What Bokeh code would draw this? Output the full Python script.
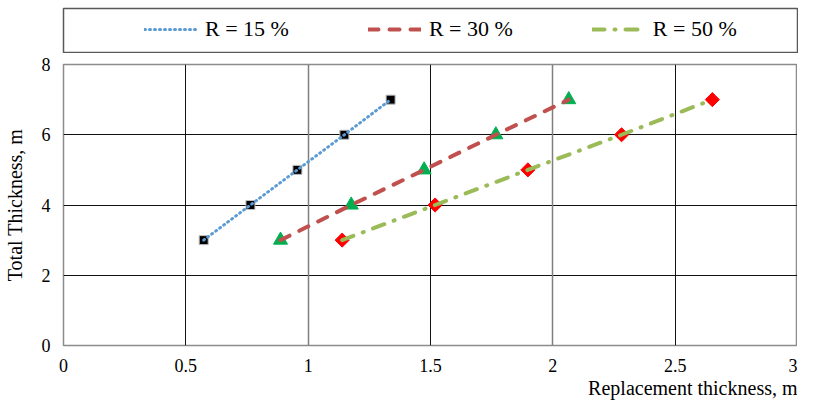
from bokeh.plotting import figure
from bokeh.models import Legend, LegendItem, Grid, FixedTicker, Range1d, Title
from bokeh.layouts import column
from bokeh.embed import file_html
from bokeh.resources import INLINE

# ---- data ----
total_thickness = [3, 4, 5, 6, 7]
repl_r15 = [0.573, 0.764, 0.956, 1.148, 1.337]
repl_r30 = [0.887, 1.176, 1.474, 1.767, 2.065]
repl_r50 = [1.139, 1.519, 1.898, 2.281, 2.652]
series_names = ["R = 15 %", "R = 30 %", "R = 50 %"]
x_ticks = [0, 0.5, 1, 1.5, 2, 2.5, 3]
x_tick_labels = ["0", "0.5", "1", "1.5", "2", "2.5", "3"]
y_ticks = [0, 2, 4, 6, 8]
y_tick_labels = ["0", "2", "4", "6", "8"]
x_title = "Replacement thickness, m"
y_title = "Total Thickness, m"

FONT = "Liberation Serif"
C15, C30, C50 = "#5B9BD5", "#C0504D", "#9BBB59"
S15 = dict(line_color=C15, line_width=3, line_dash="1 4", line_cap="round")
S30 = dict(line_color=C30, line_width=4, line_dash="10 11", line_cap="round")
S50 = dict(line_color=C50, line_width=4, line_dash="12 10 1 10", line_cap="round")

# ---- legend strip (its frame outline is the legend box) ----
top = figure(width=798, height=53, output_backend="svg", toolbar_location=None,
             x_axis_location=None, y_axis_location=None,
             x_range=Range1d(10, 11), y_range=Range1d(10, 11),
             min_border_left=58, min_border_right=0, min_border_top=8, min_border_bottom=1,
             sizing_mode="fixed")
top.grid.visible = False
top.outline_line_color = "#595959"
top.outline_line_width = 1.5
# same series drawn outside this strip's ranges: only their legend glyphs show
g1 = top.line(repl_r15, total_thickness, **S15)
g2 = top.line(repl_r30, total_thickness, **S30)
g3 = top.line(repl_r50, total_thickness, **S50)
legend = Legend(items=[LegendItem(label=series_names[0], renderers=[g1]),
                       LegendItem(label=series_names[1], renderers=[g2]),
                       LegendItem(label=series_names[2], renderers=[g3])],
                orientation="horizontal", location=(81, 10),
                border_line_color=None, background_fill_alpha=0,
                glyph_width=53, glyph_height=20, label_standoff=8,
                label_width=82, spacing=79, padding=0, margin=0,
                label_text_font=FONT, label_text_font_size="22px",
                label_text_color="#000000")
top.add_layout(legend)

# ---- main plot ----
p = figure(width=797, height=352, output_backend="svg", toolbar_location=None,
           x_range=Range1d(0, 3), y_range=Range1d(0, 8), sizing_mode="fixed",
           min_border_left=59, min_border_right=0, min_border_top=11, min_border_bottom=60)
p.outline_line_color = "#8c8c8c"
p.outline_line_width = 1.5

p.xgrid.ticker = FixedTicker(ticks=[0.5, 1.5, 2.5])
p.xgrid.grid_line_color = "#111111"
p.xgrid.grid_line_width = 1
p.add_layout(Grid(dimension=0, ticker=FixedTicker(ticks=[1, 2]),
                  grid_line_color="#7f7f7f", grid_line_width=1.5))
p.ygrid.ticker = FixedTicker(ticks=[2, 4, 6])
p.ygrid.grid_line_color = "#111111"
p.ygrid.grid_line_width = 1

p.xaxis.ticker = FixedTicker(ticks=x_ticks)
p.xaxis.major_label_overrides = {t: l for t, l in zip(x_ticks, x_tick_labels)}
p.yaxis.ticker = FixedTicker(ticks=y_ticks)
p.yaxis.major_label_overrides = {t: l for t, l in zip(y_ticks, y_tick_labels)}
for ax in (p.xaxis, p.yaxis):
    ax.axis_line_color = None
    ax.major_tick_out = 0
    ax.major_tick_in = 0
    ax.minor_tick_out = 0
    ax.minor_tick_in = 0
    ax.major_label_text_font = FONT
    ax.major_label_text_font_size = "18px"
    ax.major_label_text_color = "#000000"
    ax.axis_label_text_font = FONT
    ax.axis_label_text_font_style = "normal"
    ax.axis_label_text_color = "#000000"
    ax.axis_label_text_font_size = "20px"
p.xaxis.major_label_standoff = 13
p.yaxis.major_label_standoff = 13
p.yaxis.axis_label = y_title
p.yaxis.axis_label_standoff = 13

# x-axis title, right-aligned under the axis as in the reference
p.add_layout(Title(text=x_title, align="right", standoff=0,
                   text_font=FONT, text_font_size="20px", text_font_style="normal",
                   text_color="#000000"), "below")

# markers
p.scatter(repl_r15, total_thickness, marker="square", size=9,
          fill_color="black", line_color="#bfbfbf", line_width=1)
p.scatter(repl_r30, total_thickness, marker="triangle", size=14,
          fill_color="#00B050", line_color="#00B050")
p.scatter(repl_r50, total_thickness, marker="square", size=10, angle=0.785398,
          fill_color="#FF0000", line_color="#FF0000")
# lines
p.line(repl_r15, total_thickness, **S15)
p.line(repl_r30, total_thickness, **S30)
p.line(repl_r50, total_thickness, **S50)

layout = column(top, p, spacing=0, sizing_mode="fixed")
open("out.html", "w").write(file_html(layout, INLINE))
